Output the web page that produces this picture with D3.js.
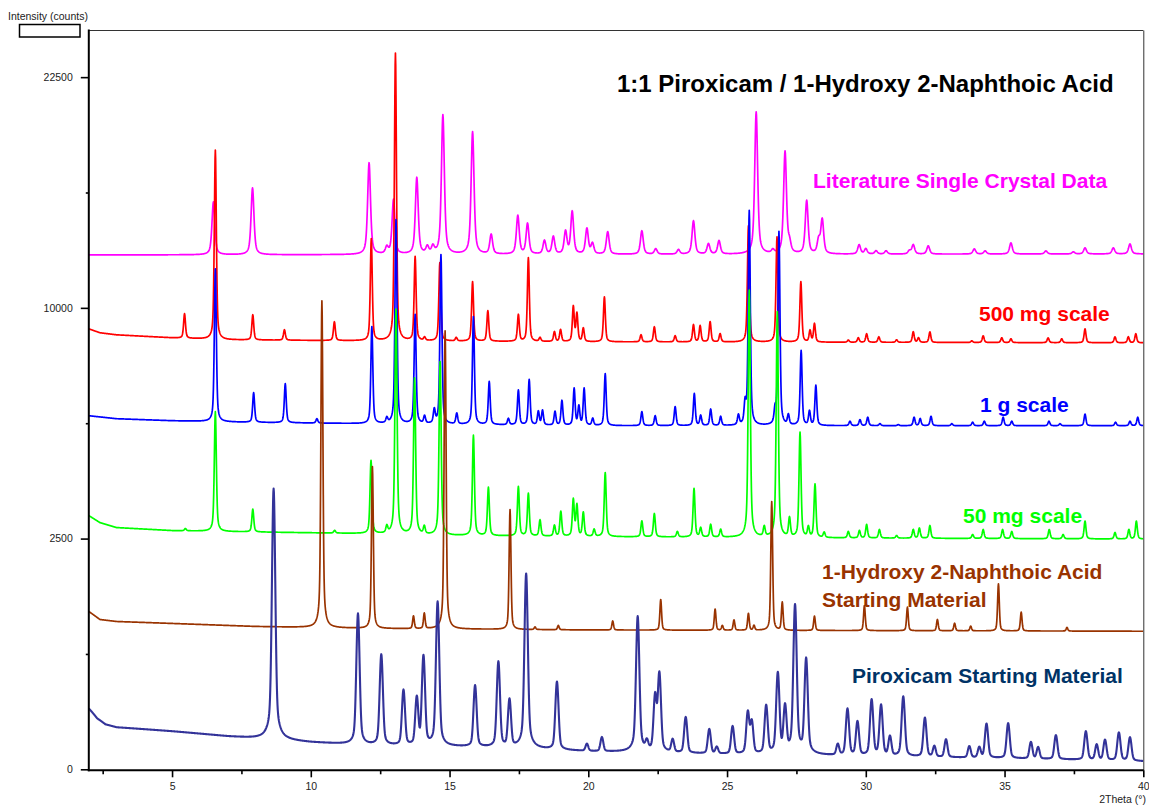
<!DOCTYPE html>
<html><head><meta charset="utf-8">
<script src="https://cdn.jsdelivr.net/npm/d3@7"></script>
<style>
body{margin:0;background:#fff}
svg{display:block;font-family:"Liberation Sans",Arial,Helvetica,sans-serif}
</style>
</head><body>
<svg id="chart" width="1149" height="807"></svg>
<script>
// ---------- axis ticks ----------
const xTicks = [5, 10, 15, 20, 25, 30, 35, 40];
const xMinorTicks = [2.5, 7.5, 12.5, 17.5, 22.5, 27.5, 32.5, 37.5];
const yTicks = [0, 2500, 10000, 22500];
const yMinorTicks = [625, 5625, 15625];

// ---------- series: baselines [2θ, counts] and peaks [2θ, apex counts] ----------
const litBase = [[2, 12426], [40, 12474]];
const litPeaks = [[6.49,15115],[7.90,15870],[12.10,17263],[12.74,12766],[12.98,15222],[13.82,16420],[14.20,12780],[14.40,12780],[14.76,20100],[15.83,19071],[16.50,13410],[17.46,14379],[17.81,13967],[18.42,13111],[18.74,13310],[19.18,13561],[19.42,14588],[19.95,13712],[20.15,12962],[20.70,13561],[21.93,13612],[22.43,12717],[23.25,12674],[23.79,14121],[24.33,12962],[24.71,13111],[26.05,20284],[26.65,12620],[27.09,17894],[27.25,12914],[27.87,15168],[28.30,13111],[28.43,14172],[29.76,12914],[30.00,12717],[30.37,12620],[30.73,12620],[31.57,12620],[31.71,12914],[32.25,12864],[33.91,12717],[34.30,12620],[35.23,13012],[36.49,12620],[37.48,12571],[37.90,12766],[38.92,12766],[39.52,12962]];

const redBase = [[2,9111],[2.4,8950],[3,8865],[5,8744],[7,8663],[12,8623],[20,8582],[40,8542]];
const redPeaks = [[5.45,9742],[6.56,18010],[7.91,9699],[9.05,9070],[10.85,9403],[12.18,13210],[13.05,24085],[13.76,12330],[14.10,8744],[14.65,12043],[15.24,8744],[15.83,11157],[16.38,9871],[17.48,9699],[17.84,12282],[18.26,8744],[18.78,8988],[19.00,9070],[19.46,10044],[19.59,9742],[19.82,9128],[20.58,10482],[21.90,8865],[22.38,9195],[23.13,8825],[23.79,9278],[24.03,9236],[24.39,9403],[24.75,8906],[25.77,13865],[26.80,13310],[27.66,11157],[27.99,9029],[28.15,9320],[29.37,8650],[29.73,8744],[30.03,8906],[30.47,8784],[31.11,8663],[31.71,8988],[31.90,8744],[32.31,8988],[33.82,8623],[34.23,8825],[34.90,8744],[35.23,8703],[36.57,8744],[37.06,8703],[37.90,9111],[38.98,8784],[39.46,8784],[39.73,8906]];

const blueBase = [[2,5871],[3,5772],[5,5706],[7.5,5658],[12,5609],[20,5544],[40,5544]];
const bluePeaks = [[6.56,11760],[7.94,6659],[9.08,6981],[10.22,5772],[12.20,9195],[12.74,5772],[13.07,14172],[13.76,9699],[14.10,5838],[14.45,6038],[14.69,12426],[15.26,5938],[15.86,9614],[16.43,7053],[17.12,5772],[17.48,6747],[17.87,7126],[18.20,6005],[18.35,6038],[18.80,6005],[19.05,6379],[19.49,6801],[19.66,6173],[19.85,6801],[20.16,5772],[20.61,7347],[21.93,6005],[22.41,5871],[23.13,6173],[23.82,6624],[24.05,5871],[24.41,6086],[24.77,5838],[25.41,5871],[25.65,6208],[25.80,14641],[26.73,5971],[26.87,13561],[27.21,5871],[27.67,8225],[27.97,6005],[28.20,6909],[29.43,5690],[29.79,5739],[30.07,5820],[30.51,5609],[31.17,5577],[31.74,5820],[31.96,5772],[32.35,5850],[33.10,5609],[33.85,5658],[34.27,5690],[34.95,5820],[35.26,5690],[36.60,5690],[37.00,5609],[37.90,5928],[39.00,5658],[39.52,5690],[39.80,5820]];

const greenBase = [[2,3023],[2.4,2858],[3,2744],[5,2676],[7,2654],[12,2609],[15,2565],[20,2543],[30,2511],[40,2489]];
const greenPeaks = [[5.48,2720],[6.56,6005],[7.91,3177],[10.86,2680],[12.17,4473],[12.74,2751],[13.07,9931],[13.74,7177],[14.09,2751],[14.66,7799],[15.86,5233],[16.40,3726],[17.48,3752],[17.84,3569],[18.26,2916],[18.78,2789],[19.01,3118],[19.46,3415],[19.59,3270],[19.82,3094],[20.21,2699],[20.61,4133],[21.93,2893],[22.38,3070],[23.21,2654],[23.81,3699],[24.05,2731],[24.41,2812],[24.77,2699],[25.80,10772],[26.34,2744],[26.81,9827],[27.25,2952],[27.63,5321],[27.93,2744],[28.17,3811],[28.50,2632],[29.37,2654],[29.77,2676],[30.03,2812],[30.49,2699],[31.11,2565],[31.71,2699],[31.93,2731],[32.31,2789],[33.85,2587],[34.23,2699],[34.93,2699],[35.26,2654],[36.61,2699],[37.11,2587],[37.90,2893],[38.98,2632],[39.48,2699],[39.75,2893]];

const brownBase = [[2,1170],[2.4,1054],[3,1026],[5,999],[8,958],[12,931],[20,912],[40,895]];
const brownPeaks = [[10.40,10306],[12.22,4301],[13.70,1101],[14.09,1140],[14.84,9029],[17.18,3167],[18.08,950],[18.92,971],[20.88,1033],[22.61,1354],[24.57,1205],[24.83,971],[25.25,1047],[25.77,1140],[25.97,971],[26.61,3365],[26.99,1307],[28.15,1101],[29.95,1260],[31.50,1234],[32.58,1054],[33.20,1003],[33.78,962],[34.78,1615],[35.60,1159],[37.25,945]];

const navyBase = [[2,174],[2.3,122],[2.6,95],[3,83],[5,68],[7,51],[8,45],[10,34],[12,27],[16,23],[20,15],[25,10.5],[30,7.9],[35,5.7],[40,3]];
const navyPeaks = [[8.66,3699],[11.70,1140],[12.54,620],[13.34,296],[13.82,245],[14.06,609],[14.57,1322],[15.92,331],[16.76,546],[17.16,230],[17.76,1800],[18.87,360],[19.95,30],[20.49,48],[21.78,1101],[22.11,34],[22.41,264],[22.56,441],[23.04,41],[23.51,128],[24.36,76],[24.63,23],[25.20,87],[25.75,158],[25.89,110],[26.41,192],[26.83,441],[27.09,192],[27.45,1279],[27.85,581],[28.99,29],[29.34,173],[29.70,108],[30.21,230],[30.55,196],[30.87,51],[31.35,250],[32.13,125],[32.47,25],[32.89,42],[33.73,25],[34.09,23],[34.35,98],[35.13,100],[35.95,35],[36.21,23],[36.85,55],[37.93,68],[38.32,29],[38.62,41],[39.12,64],[39.52,48]];

const seriesNames = ["Literature Single Crystal Data","500 mg scale","1 g scale","50 mg scale","1-Hydroxy 2-Naphthoic Acid Starting Material","Piroxicam Starting Material"];

// ---------- layout / style ----------
const svg = d3.select("#chart");
const X0 = 88.8, X1 = 1143.3, YBOT = 769.3, YTOP = 31;
const x = d3.scaleLinear().domain([2, 40]).range([X0, X1]);
const y = d3.scaleSqrt().domain([0, 25600]).range([YBOT, YTOP]);

const series = [
  {base: litBase,   peaks: litPeaks,   hw: 0.06,  eta: 0.6,  color: "#ff00ff", sw: 1.7},
  {base: redBase,   peaks: redPeaks,   hw: 0.04,  eta: 0.5,  color: "#ff0000", sw: 1.7},
  {base: blueBase,  peaks: bluePeaks,  hw: 0.04,  eta: 0.5,  color: "#0000ff", sw: 1.7},
  {base: greenBase, peaks: greenPeaks, hw: 0.04,  eta: 0.5,  color: "#00ff00", sw: 1.7},
  {base: brownBase, peaks: brownPeaks, hw: 0.035, eta: 0.4,  color: "#993300", sw: 1.7},
  {base: navyBase,  peaks: navyPeaks,  hw: 0.055, eta: 0.25, color: "#333399", sw: 2.1}
];

function profile(s) {
  const bf = d3.scaleLinear().domain(s.base.map(d => d[0])).range(s.base.map(d => d[1])).clamp(true);
  const amps = s.peaks.map(([p, top]) => [p, Math.max(0, top - bf(p))]);
  const pts = [];
  for (let i = 0; i <= 3800; i++) {
    const t = 2 + i * 0.01;
    let v = bf(t);
    for (const [p, a] of amps) {
      const d = (t - p) / s.hw;
      if (Math.abs(d) > 200) continue;
      const d2 = d * d;
      v += a * (s.eta / (1 + d2) + (1 - s.eta) * Math.exp(-0.693147 * d2));
    }
    pts.push([t, v]);
  }
  return pts;
}

svg.append("defs").append("clipPath").attr("id", "plotclip")
  .append("rect").attr("x", X0).attr("y", YTOP - 1).attr("width", X1 - X0).attr("height", YBOT - YTOP + 2);

const line = d3.line().x(d => x(d[0])).y(d => y(d[1]));
const gLines = svg.append("g").attr("clip-path", "url(#plotclip)");
series.forEach(s => {
  gLines.append("path").datum(profile(s))
    .attr("d", line).attr("fill", "none")
    .attr("stroke", s.color).attr("stroke-width", s.sw)
    .attr("stroke-linejoin", "round");
});

// ---------- axes ----------
const AX_Y = 770.3;
const gx = svg.append("g").attr("transform", `translate(0,${AX_Y})`)
  .call(d3.axisBottom(x).tickValues(xTicks).tickSize(7).tickPadding(5).tickFormat(d3.format("d")));
const gxm = svg.append("g").attr("transform", `translate(0,${AX_Y})`)
  .call(d3.axisBottom(x).tickValues(xMinorTicks).tickSize(4).tickFormat(""));
const gy = svg.append("g").attr("transform", `translate(${X0},0)`)
  .call(d3.axisLeft(y).tickValues(yTicks).tickSize(8).tickPadding(8).tickFormat(d3.format("d")));
const gym = svg.append("g").attr("transform", `translate(${X0},0)`)
  .call(d3.axisLeft(y).tickValues(yMinorTicks).tickSize(3).tickFormat(""));
[gx, gxm, gy, gym].forEach(g => {
  g.select(".domain").remove();
  g.selectAll(".tick line").attr("stroke", "#000").attr("stroke-width", 1.6);
  g.selectAll(".tick text").attr("fill", "#222").style("font-size", "10.5px")
    .style("font-family", '"Liberation Sans",Arial,sans-serif');
});

// frame
svg.append("line").attr("x1", X0).attr("x2", X1).attr("y1", 30.5).attr("y2", 30.5).attr("stroke", "#333").attr("stroke-width", 1);
svg.append("line").attr("x1", X1 + 0.5).attr("x2", X1 + 0.5).attr("y1", 30.5).attr("y2", AX_Y).attr("stroke", "#333").attr("stroke-width", 1);
svg.append("line").attr("x1", X0).attr("x2", X0).attr("y1", 29.5).attr("y2", AX_Y + 1).attr("stroke", "#000").attr("stroke-width", 2);
svg.append("line").attr("x1", X0 - 1).attr("x2", X1 + 0.5).attr("y1", AX_Y).attr("y2", AX_Y).attr("stroke", "#000").attr("stroke-width", 2);

// axis titles + legend box
svg.append("text").attr("x", 8).attr("y", 20).style("font-size", "10.5px").attr("fill", "#222").text("Intensity (counts)");
svg.append("rect").attr("x", 19.5).attr("y", 24.5).attr("width", 60.5).attr("height", 12.5)
  .attr("fill", "#fff").attr("stroke", "#000").attr("stroke-width", 1.5);
svg.append("text").attr("x", 1146).attr("y", 803).attr("text-anchor", "end")
  .style("font-size", "10.5px").attr("fill", "#222").text("2Theta (°)");

// title
svg.append("text").attr("x", 617).attr("y", 92).style("font-size", "24px").style("font-weight", "bold")
  .attr("fill", "#000").text("1:1 Piroxicam / 1-Hydroxy 2-Naphthoic Acid");

// series labels
const labels = [
  {t: "Literature Single Crystal Data", x: 813, y: 187.5, c: "#ff00ff"},
  {t: "500 mg scale", x: 979, y: 321, c: "#ff0000"},
  {t: "1 g scale", x: 980, y: 412, c: "#0000ff"},
  {t: "50 mg scale", x: 963, y: 523, c: "#00ff00"},
  {t: "1-Hydroxy 2-Naphthoic Acid", x: 822, y: 579, c: "#993300"},
  {t: "Starting Material", x: 822, y: 606.5, c: "#993300"},
  {t: "Piroxicam Starting Material", x: 852, y: 683, c: "#003366"}
];
svg.append("g").selectAll("text").data(labels).join("text")
  .attr("x", d => d.x).attr("y", d => d.y).attr("fill", d => d.c)
  .style("font-size", "21px").style("font-weight", "bold").text(d => d.t);
</script>
</body></html>
